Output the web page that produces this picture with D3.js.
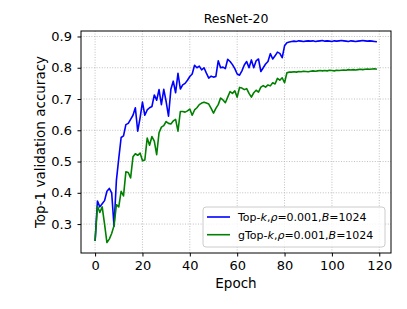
<!DOCTYPE html>
<html>
<head>
<meta charset="utf-8">
<script src="https://cdn.jsdelivr.net/npm/d3@7"></script>
<style>
  body { margin: 0; background: #fff; }
  text { font-family: "DejaVu Sans", sans-serif; }
</style>
</head>
<body>
<div id="chart"></div>
<script>
//sizes
const width = 407;
const height = 309;
const margin = { top: 31, right: 16, bottom: 56, left: 81 };
const innerwidth = width - margin.left - margin.right;
const innerheight = height - margin.top - margin.bottom;

//epochs 0..119
const epochs = d3.range(0, 120);

//top-k validation accuracy per epoch
const topkAcc = [
    0.246, 0.374, 0.355, 0.365, 0.375, 0.405, 0.414, 0.400, 0.293, 0.440,
    0.510, 0.577, 0.582, 0.618, 0.622, 0.635, 0.648, 0.672, 0.597, 0.640,
    0.690, 0.648, 0.665, 0.672, 0.676, 0.713, 0.696, 0.730, 0.682, 0.731,
    0.692, 0.645, 0.731, 0.757, 0.720, 0.782, 0.732, 0.745, 0.750, 0.760,
    0.772, 0.780, 0.808, 0.800, 0.805, 0.793, 0.800, 0.783, 0.767, 0.773,
    0.770, 0.772, 0.822, 0.800, 0.802, 0.797, 0.827, 0.820, 0.810, 0.797,
    0.780, 0.776, 0.790, 0.809, 0.820, 0.800, 0.825, 0.800, 0.822, 0.828,
    0.788, 0.800, 0.812, 0.820, 0.845, 0.828, 0.838, 0.850, 0.846, 0.832,
    0.870, 0.880, 0.882, 0.884, 0.885, 0.884, 0.886, 0.885, 0.884, 0.885,
    0.886, 0.885, 0.886, 0.884, 0.885, 0.886, 0.887, 0.885, 0.886, 0.885,
    0.884, 0.886, 0.885, 0.886, 0.887, 0.886, 0.885, 0.884, 0.886, 0.885,
    0.884, 0.885, 0.886, 0.887, 0.886, 0.885, 0.886, 0.885, 0.884, 0.883
];

//gtop-k validation accuracy per epoch
const gtopkAcc = [
    0.246, 0.358, 0.337, 0.355, 0.300, 0.241, 0.252, 0.270, 0.295, 0.362,
    0.355, 0.405, 0.390, 0.467, 0.465, 0.448, 0.515, 0.525, 0.520, 0.527,
    0.503, 0.505, 0.575, 0.552, 0.580, 0.565, 0.522, 0.592, 0.610, 0.615,
    0.628, 0.622, 0.620, 0.630, 0.635, 0.597, 0.660, 0.660, 0.658, 0.662,
    0.668, 0.648, 0.665, 0.672, 0.682, 0.687, 0.690, 0.687, 0.684, 0.670,
    0.655, 0.670, 0.682, 0.703, 0.697, 0.688, 0.706, 0.724, 0.718, 0.726,
    0.706, 0.737, 0.735, 0.730, 0.733, 0.718, 0.706, 0.720, 0.728, 0.722,
    0.738, 0.743, 0.738, 0.745, 0.742, 0.752, 0.748, 0.766, 0.760, 0.768,
    0.752, 0.784, 0.786, 0.786, 0.787, 0.786, 0.788, 0.787, 0.789, 0.788,
    0.787, 0.789, 0.790, 0.789, 0.790, 0.791, 0.790, 0.791, 0.790, 0.792,
    0.791, 0.790, 0.792, 0.791, 0.792, 0.793, 0.792, 0.794, 0.793, 0.794,
    0.793, 0.794, 0.795, 0.794, 0.795, 0.796, 0.795, 0.796, 0.797, 0.795
];

const xTicks = [0, 20, 40, 60, 80, 100, 120];
const yTicks = [0.3, 0.4, 0.5, 0.6, 0.7, 0.8, 0.9];

//series list for lines and legend
const series = [
    { name: "Top-k", values: topkAcc, color: "#0000ff" },
    { name: "gTop-k", values: gtopkAcc, color: "#008000" }
];

const x = d3.scaleLinear()
    .domain([-5.95, 124.95])
    .range([0, innerwidth]);

const y = d3.scaleLinear()
    .domain([0.2075, 0.9175])
    .range([innerheight, 0]);

const svg = d3.select("#chart")
    .append("svg")
    .attr("width", width)
    .attr("height", height)
    .append("g")
    .attr("transform", "translate(" + margin.left + "," + margin.top + ")");

//dotted grid
svg.append("g")
    .selectAll("line")
    .data(xTicks)
    .enter()
    .append("line")
    .attr("x1", function (d) { return x(d); })
    .attr("x2", function (d) { return x(d); })
    .attr("y1", 0)
    .attr("y2", innerheight)
    .attr("stroke", "#b0b0b0")
    .attr("stroke-width", 0.8)
    .attr("stroke-dasharray", "1,1.6");

svg.append("g")
    .selectAll("line")
    .data(yTicks)
    .enter()
    .append("line")
    .attr("x1", 0)
    .attr("x2", innerwidth)
    .attr("y1", function (d) { return y(d); })
    .attr("y2", function (d) { return y(d); })
    .attr("stroke", "#b0b0b0")
    .attr("stroke-width", 0.8)
    .attr("stroke-dasharray", "1,1.6");

//lines
const line = d3.line()
    .x(function (d, i) { return x(epochs[i]); })
    .y(function (d) { return y(d); });

series.forEach(function (s) {
    svg.append("path")
        .datum(s.values)
        .attr("fill", "none")
        .attr("stroke", s.color)
        .attr("stroke-width", 1.6)
        .attr("stroke-linejoin", "round")
        .attr("d", line);
});

//frame
svg.append("rect")
    .attr("width", innerwidth)
    .attr("height", innerheight)
    .attr("fill", "none")
    .attr("stroke", "#000")
    .attr("stroke-width", 1);

//axes
const xAxis = svg.append("g")
    .attr("transform", "translate(0," + innerheight + ")")
    .call(d3.axisBottom(x).tickValues(xTicks).tickSize(3.5).tickPadding(4.5));

const yAxis = svg.append("g")
    .call(d3.axisLeft(y).tickValues(yTicks).tickFormat(d3.format(".1f")).tickSize(3.5).tickPadding(5.5));

[xAxis, yAxis].forEach(function (a) {
    a.select(".domain").remove();
    a.selectAll("text")
        .style("font-family", "DejaVu Sans")
        .style("font-size", "13px")
        .attr("fill", "#000");
    a.selectAll("line").attr("stroke", "#000");
});

//labels
svg.append("text")
    .attr("x", innerwidth / 2)
    .attr("y", innerheight + 35)
    .attr("text-anchor", "middle")
    .style("font-size", "13.5px")
    .text("Epoch");

svg.append("text")
    .attr("transform", "rotate(-90)")
    .attr("x", -innerheight / 2)
    .attr("y", -36.5)
    .attr("text-anchor", "middle")
    .style("font-size", "13.5px")
    .text("Top-1 validation accuracy");

svg.append("text")
    .attr("x", innerwidth / 2)
    .attr("y", -8)
    .attr("text-anchor", "middle")
    .style("font-size", "12.5px")
    .text("ResNet-20");

//legend
const legend = svg.append("g")
    .attr("transform", "translate(" + (innerwidth - 188) + "," + (innerheight - 46) + ")");

legend.append("rect")
    .attr("width", 182)
    .attr("height", 40)
    .attr("rx", 3)
    .attr("fill", "#fff")
    .attr("fill-opacity", 0.8)
    .attr("stroke", "#cccccc")
    .attr("stroke-width", 1);

series.forEach(function (s, i) {
    const ly = 10 + i * 17.7;
    legend.append("line")
        .attr("x1", 4)
        .attr("x2", 27)
        .attr("y1", ly)
        .attr("y2", ly)
        .attr("stroke", s.color)
        .attr("stroke-width", 1.6);

    const t = legend.append("text")
        .attr("x", 35)
        .attr("y", ly + 4)
        .style("font-size", "11px");
    t.append("tspan").text(s.name.replace("k", ""));
    t.append("tspan").style("font-style", "italic").text("k");
    t.append("tspan").text(",");
    t.append("tspan").style("font-style", "italic").text("ρ");
    t.append("tspan").text("=0.001,");
    t.append("tspan").style("font-style", "italic").text("B");
    t.append("tspan").text("=1024");
});
</script>
</body>
</html>
